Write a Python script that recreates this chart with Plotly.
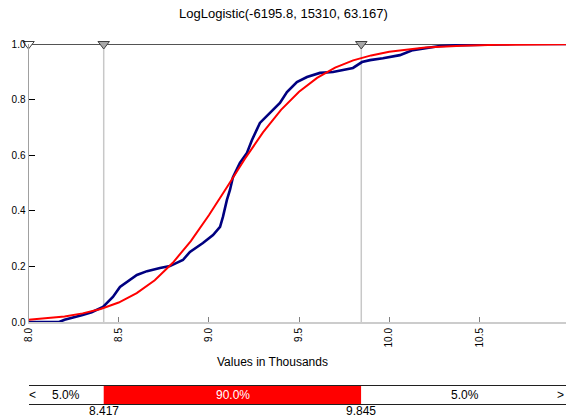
import plotly.graph_objects as go

# ---- data ----
title_text = "LogLogistic(-6195.8, 15310, 63.167)"
x_title = "Values in Thousands"

# empirical cumulative curve (values in thousands, cumulative probability)
emp_x = [8.00, 8.17, 8.20, 8.25, 8.30, 8.35, 8.40, 8.413, 8.468, 8.507, 8.601, 8.657,
         8.729, 8.784, 8.856, 8.895, 8.967, 9.023, 9.062, 9.078, 9.100, 9.117, 9.133,
         9.172, 9.211, 9.239, 9.283, 9.339, 9.394, 9.433, 9.488, 9.544, 9.616, 9.688,
         9.743, 9.799, 9.849, 9.893, 9.965, 10.059, 10.131, 10.209, 10.281, 10.392,
         10.541, 10.70, 11.00]
emp_y = [0.000, 0.000, 0.008, 0.016, 0.025, 0.035, 0.050, 0.054, 0.090, 0.126, 0.169, 0.183,
         0.194, 0.201, 0.223, 0.252, 0.284, 0.313, 0.342, 0.378, 0.439, 0.475, 0.520,
         0.572, 0.608, 0.655, 0.716, 0.752, 0.788, 0.827, 0.863, 0.881, 0.896, 0.899,
         0.906, 0.914, 0.935, 0.942, 0.949, 0.960, 0.978, 0.986, 0.993, 0.996,
         0.999, 1.000, 1.000]

# fitted LogLogistic cumulative curve
fit_x = [8.0, 8.1, 8.2, 8.3, 8.4, 8.5, 8.6, 8.7, 8.8, 8.9, 9.0, 9.1, 9.2, 9.3, 9.4,
         9.5, 9.6, 9.7, 9.8, 9.9, 10.0, 10.2, 10.4, 10.6, 10.8, 11.0]
fit_y = [0.008, 0.013, 0.020, 0.031, 0.047, 0.070, 0.104, 0.150, 0.213, 0.291, 0.384,
         0.485, 0.587, 0.682, 0.763, 0.828, 0.878, 0.915, 0.941, 0.959, 0.972, 0.987,
         0.994, 0.997, 0.9987, 0.9994]

x_min, x_max = 8.0, 10.98
y_ticks = [0.0, 0.2, 0.4, 0.6, 0.8, 1.0]
x_ticks = [8.0, 8.5, 9.0, 9.5, 10.0, 10.5]

# 90% interval markers
bounds = [8.0, 8.417, 9.845, 11.0]
bound_labels = ["8.417", "9.845"]
pct_labels = ["5.0%", "90.0%", "5.0%"]

W, H = 566, 418
fig = go.Figure()

# vertical delimiter lines
for b in bounds[1:3]:
    fig.add_trace(go.Scatter(x=[b, b], y=[0, 1], mode="lines",
                             line=dict(color="#c8c8c8", width=1.5),
                             hoverinfo="skip", xaxis="x", yaxis="y"))

# top line at 1.0
fig.add_trace(go.Scatter(x=[x_min, bounds[-1]], y=[1, 1], mode="lines",
                         line=dict(color="#1a1a1a", width=1.3), cliponaxis=False,
                         hoverinfo="skip"))

fig.add_trace(go.Scatter(x=emp_x, y=emp_y, mode="lines",
                         line=dict(color="#000080", width=2.6), name="Input"))
fig.add_trace(go.Scatter(x=fit_x, y=fit_y, mode="lines",
                         line=dict(color="#ff0000", width=2), name="Fit"))

# triangles
fig.add_trace(go.Scatter(x=bounds[:3], y=[1, 1, 1], mode="markers", cliponaxis=False,
                         marker=dict(symbol="triangle-down", size=10,
                                     color=["white", "#a8a8a8", "#a8a8a8"],
                                     line=dict(color="#404040", width=1)),
                         hoverinfo="skip"))

# bottom percentage bar
widths = [bounds[i + 1] - bounds[i] for i in range(3)]
fig.add_trace(go.Bar(y=[0, 0, 0], x=widths, base=bounds[:3], orientation="h",
                     marker=dict(color=["white", "#ff0000", "white"], line=dict(width=0)),
                     width=1, textposition="none", hoverinfo="skip",
                     xaxis="x2", yaxis="y2"))

x0 = 28.5 / W
fig.update_layout(
    width=W, height=H,
    margin=dict(l=0, r=0, t=0, b=0, autoexpand=False),
    paper_bgcolor="white", plot_bgcolor="white",
    showlegend=False,
    font=dict(family="Liberation Sans, Arial, sans-serif", color="#000000", size=10),
    xaxis=dict(domain=[x0, 1], range=[x_min, x_max], tickvals=x_ticks, anchor="y",
               ticktext=[f"{v:.1f}" for v in x_ticks], tickangle=-90,
               ticks="inside", ticklen=5, tickcolor="#808080", automargin=False,
               showline=True, linecolor="#cccccc", linewidth=2,
               showgrid=False, zeroline=False, tickfont=dict(size=10)),
    yaxis=dict(domain=[(H - 322) / H, (H - 44) / H], range=[0, 1], anchor="x",
               tickvals=y_ticks, ticktext=[f"{v:.1f}" for v in y_ticks],
               ticks="inside", ticklen=6, tickcolor="#000000", automargin=False,
               showline=True, linecolor="#a0a0a0", linewidth=1,
               showgrid=False, zeroline=False, tickfont=dict(size=10)),
    xaxis2=dict(domain=[x0, 1], range=[x_min, x_max], anchor="y2", automargin=False,
                showticklabels=False, ticks="", showgrid=False, zeroline=False,
                showline=True, mirror=True, linecolor="#202020", linewidth=1.2,
                layer="above traces"),
    yaxis2=dict(domain=[(H - 404) / H, (H - 386) / H], range=[-0.5, 0.5], anchor="x2",
                automargin=False,
                showticklabels=False, ticks="", showgrid=False, zeroline=False,
                showline=False),
)

annotations = [
    dict(text=title_text, x=0.5, y=(H - 14) / H, xref="paper", yref="paper",
         showarrow=False, font=dict(size=13), xanchor="center", yanchor="middle"),
    dict(text=x_title, x=272 / W, y=(H - 362) / H, xref="paper", yref="paper",
         showarrow=False, font=dict(size=12), xanchor="center", yanchor="middle"),
    dict(text="<", x=x_min, y=0, xref="x2", yref="y2", showarrow=False,
         xanchor="left", xshift=-2, font=dict(size=12)),
    dict(text=">", x=1, y=0, xref="paper", yref="y2", showarrow=False,
         xanchor="right", xshift=0, font=dict(size=12)),
]
pct_colors = ["black", "white", "black"]
for i in range(3):
    annotations.append(dict(text=pct_labels[i], x=(bounds[i] + bounds[i + 1]) / 2, y=0,
                            xref="x2", yref="y2", showarrow=False,
                            font=dict(size=12, color=pct_colors[i])))
for b, lab in zip(bounds[1:3], bound_labels):
    annotations.append(dict(text=lab, x=b, y=(H - 411) / H, xref="x2", yref="paper",
                            showarrow=False, yanchor="middle", font=dict(size=12)))
fig.update_layout(annotations=annotations)

fig.write_html("out.html")
